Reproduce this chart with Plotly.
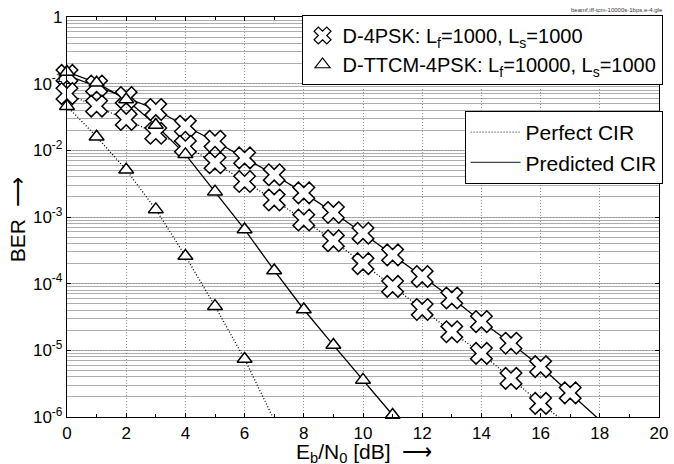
import plotly.graph_objects as go

# ---------------- data ----------------
snr_4psk_pred = list(range(0, 19))
ber_4psk_pred = [0.133, 0.092, 0.062, 0.041, 0.023, 0.0137, 7.7e-3, 4.3e-3, 2.3e-3,
                 1.17e-3, 5.7e-4, 2.7e-4, 1.28e-4, 6.1e-5, 2.7e-5, 1.28e-5, 5.7e-6,
                 2.3e-6, 9.0e-7]
snr_4psk_perf = list(range(0, 18))
ber_4psk_perf = [0.071, 0.046, 0.029, 0.018, 0.0115, 6.5e-3, 3.4e-3, 1.8e-3, 9.0e-4,
                 4.4e-4, 2.0e-4, 9.1e-5, 4.1e-5, 1.9e-5, 9.0e-6, 3.8e-6, 1.6e-6, 7.3e-7]
snr_ttcm_pred = list(range(0, 12))
ber_ttcm_pred = [0.15, 0.103, 0.058, 0.024, 8.7e-3, 2.4e-3, 6.5e-4, 1.58e-4, 4.1e-5,
                 1.2e-5, 3.6e-6, 1.07e-6]
snr_ttcm_perf = list(range(0, 8))
ber_ttcm_perf = [0.046, 0.016, 5.1e-3, 1.3e-3, 2.6e-4, 4.6e-5, 7.4e-6, 9.0e-7]

x_ticks = list(range(0, 21, 2))
y_tickvals = [1, 1e-1, 1e-2, 1e-3, 1e-4, 1e-5, 1e-6]
y_ticktext = ["1", "10<sup>-1</sup>", "10<sup>-2</sup>", "10<sup>-3</sup>",
              "10<sup>-4</sup>", "10<sup>-5</sup>", "10<sup>-6</sup>"]
YMIN, YMAX = 1e-6, 1.0

legend1_names = ["D-4PSK: L<sub>f</sub>=1000, L<sub>s</sub>=1000",
                 "D-TTCM-4PSK: L<sub>f</sub>=10000, L<sub>s</sub>=1000"]
legend2_names = ["Perfect CIR", "Predicted CIR"]
x_title = "E<sub>b</sub>/N<sub>0</sub> [dB]  \u27f6"
y_title = "BER  \u27f6"

FONT = "Liberation Sans, Arial, sans-serif"
DOT = "1px,2px"

fig = go.Figure()

series = [
    (snr_4psk_pred, ber_4psk_pred, "solid", "x", 19),
    (snr_4psk_perf, ber_4psk_perf, DOT, "x", 19),
    (snr_ttcm_pred, ber_ttcm_pred, "solid", "triangle-up", 13),
    (snr_ttcm_perf, ber_ttcm_perf, DOT, "triangle-up", 13),
]

# lines (clipped to the plot area)
for xs, ys, dash, sym, sz in series:
    fig.add_trace(go.Scatter(x=xs, y=ys, mode="lines", showlegend=False,
                             line=dict(color="black", width=1.3, dash=dash)))
# markers (only those inside the axis range, not clipped)
for xs, ys, dash, sym, sz in series:
    mx = [a for a, b in zip(xs, ys) if b >= YMIN]
    my = [b for b in ys if b >= YMIN]
    fig.add_trace(go.Scatter(x=mx, y=my, mode="markers", showlegend=False,
                             cliponaxis=False,
                             marker=dict(symbol=sym, size=sz, color="white",
                                         line=dict(color="black", width=1.5))))

# legend entries
fig.add_trace(go.Scatter(x=[None], y=[None], mode="markers", name=legend1_names[0],
                         legend="legend",
                         marker=dict(symbol="x", size=15, color="white",
                                     line=dict(color="black", width=1.2))))
fig.add_trace(go.Scatter(x=[None], y=[None], mode="markers", name=legend1_names[1],
                         legend="legend",
                         marker=dict(symbol="triangle-up", size=13, color="white",
                                     line=dict(color="black", width=1.2))))
fig.add_trace(go.Scatter(x=[None], y=[None], mode="lines", name=legend2_names[0],
                         legend="legend2",
                         line=dict(color="#444444", width=1.2, dash=DOT)))
fig.add_trace(go.Scatter(x=[None], y=[None], mode="lines", name=legend2_names[1],
                         legend="legend2",
                         line=dict(color="#444444", width=1.3)))

fig.update_layout(
    width=674, height=464,
    margin=dict(l=67, r=15, t=17, b=47, autoexpand=False),
    paper_bgcolor="white", plot_bgcolor="white",
    font=dict(family=FONT, color="black", size=17),
    legend=dict(x=1.006, y=1.005, xanchor="right", yanchor="top",
                bgcolor="white", bordercolor="black", borderwidth=1,
                font=dict(size=20), tracegroupgap=0),
    legend2=dict(x=1.006, y=0.765, xanchor="right", yanchor="top",
                 bgcolor="white", bordercolor="black", borderwidth=1,
                 font=dict(size=21), itemwidth=50),
    xaxis=dict(range=[0, 20], tickvals=x_ticks, showgrid=True, automargin=False,
               gridcolor="#909090", griddash=DOT, gridwidth=1,
               zeroline=False, showline=True, linecolor="black", linewidth=1.3,
               mirror="ticks", ticks="inside", ticklen=4, tickcolor="black",
               tickfont=dict(size=17),
               minor=dict(dtick=1, ticks="inside", ticklen=3, tickcolor="black",
                          showgrid=False)),
    yaxis=dict(type="log", range=[-6, 0], tickvals=y_tickvals, ticktext=y_ticktext,
               showgrid=True, gridcolor="#909090", griddash=DOT, gridwidth=1,
               automargin=False,
               zeroline=False, showline=True, linecolor="black", linewidth=1.3,
               mirror="ticks", ticks="inside", ticklen=4, tickcolor="black",
               tickfont=dict(size=17),
               minor=dict(dtick="D1", showgrid=True, gridcolor="#adadad",
                          griddash="solid", gridwidth=1, ticks="")),
)

# axis titles
fig.add_annotation(text=x_title, xref="paper", yref="paper", x=0.5025, y=-0.09,
                   xanchor="center", yanchor="middle", showarrow=False,
                   font=dict(size=21))
fig.add_annotation(text=y_title, xref="paper", yref="paper", x=-0.083, y=0.494,
                   xanchor="center", yanchor="middle", showarrow=False, textangle=-90,
                   font=dict(size=21))

fig.add_annotation(text="beamf,iff-tcm-10000s-1bps,e-4.gle", xref="paper", yref="paper",
                   x=1.01, y=1.018, xanchor="right", yanchor="middle", showarrow=False,
                   font=dict(size=6, color="#333333"))

fig.write_html("out.html")
